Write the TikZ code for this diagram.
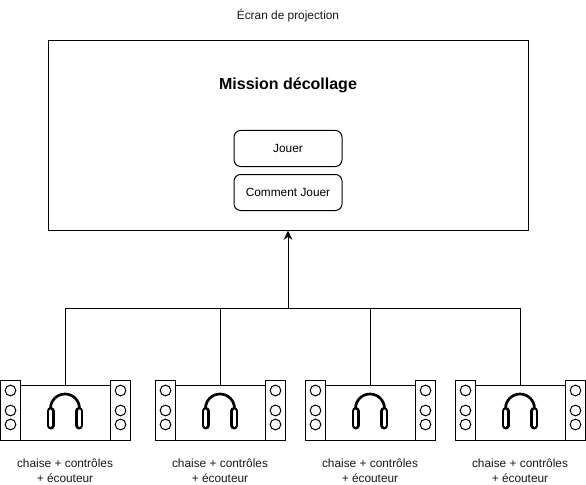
\documentclass[tikz,border=0pt]{standalone}
\usepackage{fontspec}
\setmainfont{Liberation Sans}
\usetikzlibrary{arrows.meta}
\tikzset{
 x=0.75pt,y=-0.75pt,
 line/.style={draw=black,line width=0.75pt},
 panel/.style={line,fill=white,minimum width=15pt,minimum height=45pt,inner sep=0pt,outer sep=0pt},
 seat/.style={line,fill=white,minimum width=67.5pt,minimum height=41.25pt,inner sep=0pt,outer sep=0pt},
 knob/.style={line,fill=white,circle,minimum size=8pt,inner sep=0pt,outer sep=0pt},
 txt/.style={font=\fontsize{8.9pt}{11.25pt}\selectfont,align=center,inner sep=0pt,text=black!90},
 btn/.style={line,rounded corners=5pt,fill=white,minimum width=81pt,minimum height=27pt,inner sep=0pt,outer sep=0pt,font=\fontsize{8.9pt}{11pt}\selectfont},
 earout/.style={draw=black,line width=6pt,line cap=round},
 earin/.style={draw=white,line width=2.4pt,line cap=round},
 band/.style={draw=black,line width=2pt},
 conn/.style={line},
 arr/.style={line,-{Stealth[length=7pt,width=6.5pt]}},
}
\begin{document}
\begin{tikzpicture}
\useasboundingbox (0,0) rectangle (586,485);
\node[txt] (title) at (288,15.7) {Écran de projection};
\node[line,fill=white,minimum width=360pt,minimum height=142.5pt,inner sep=0pt,outer sep=0pt] (screen) at (288,135.5) {};
\node[font=\bfseries\fontsize{12pt}{14pt}\selectfont,inner sep=0pt] (mission) at (288,85.5) {Mission décollage};
\node[btn] (jouer) at (288,148.5) {\raisebox{-0.6pt}{Jouer}};
\node[btn] (comment) at (288,192.5) {Comment Jouer};
\foreach \i/\dx in {1/0,2/155,3/305,4/455}{
  \node[seat] (seat\i) at (65.5+\dx,413) {};
  \node[panel] (pl\i) at (10.5+\dx,410.5) {};
  \node[panel] (pr\i) at (120.5+\dx,410.5) {};
  \foreach \y/\n in {390.5/a,410.5/b,424.5/c}{
    \node[knob] (kl\i\n) at (10.5+\dx,\y) {};
    \node[knob] (kr\i\n) at (120.5+\dx,\y) {};
  }
  \draw[band] (50.5+\dx,410) -- (50.5+\dx,408.5) arc[start angle=180,end angle=360,radius=14.5] -- (79.5+\dx,410);
  \draw[earout] (50.7+\dx,411) -- (50.7+\dx,425.5);
  \draw[earin] (50.7+\dx,411) -- (50.7+\dx,425.5);
  \draw[earout] (79.3+\dx,411) -- (79.3+\dx,425.5);
  \draw[earin] (79.3+\dx,411) -- (79.3+\dx,425.5);
  \node[txt] (cap\i) at (65+\dx,470.5) {chaise + contrôles\\+ écouteur};
}
\coordinate (bus) at (288,308);
\draw[conn] (seat1.north) |- (bus);
\draw[conn] (seat2.north) |- (bus);
\draw[conn] (seat3.north) |- (bus);
\draw[conn] (seat4.north) |- (bus);
\draw[arr] (bus) -- (screen.south);
\end{tikzpicture}
\end{document}
